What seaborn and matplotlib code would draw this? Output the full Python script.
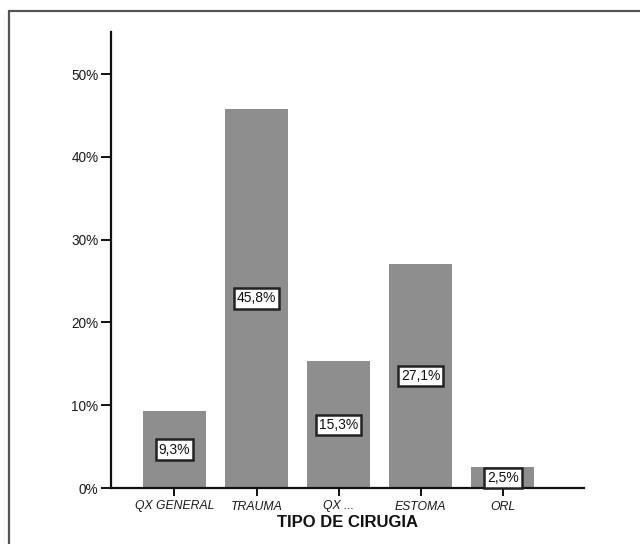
import matplotlib
matplotlib.use("Agg")
import matplotlib.pyplot as plt
from matplotlib.lines import Line2D
import seaborn as sns
import pandas as pd

categories = ["QX GENERAL", "TRAUMA", "QX ...", "ESTOMA", "ORL"]
percentages = [9.3, 45.8, 15.3, 27.1, 2.5]
y_ticks = [0, 10, 20, 30, 40, 50]

sns.set_theme(style="ticks")
plt.rcParams["font.family"] = ["Liberation Sans", "DejaVu Sans"]

df = pd.DataFrame({"tipo": categories, "pct": percentages})

fig = plt.figure(figsize=(6.4, 5.44), dpi=100)
ax = fig.add_axes([111 / 640, 1 - 488 / 544, (584 - 111) / 640, (488 - 32) / 544])

sns.barplot(data=df, x="tipo", y="pct", color="#8e8e8e", saturation=1,
            width=0.77, edgecolor="none", ax=ax)

ax.set_xlim(-0.773, 4.99)
ax.set_ylim(0, 55.1)
ax.set_yticks(y_ticks)
ax.set_yticklabels([f"{v}%" for v in y_ticks], fontsize=9.8, color="#1a1a1a")
ax.set_xticks(range(len(categories)))
ax.set_xticklabels(categories, fontsize=8.8, style="italic", color="#1a1a1a")
ax.tick_params(axis="y", length=7, width=1.4, color="#111111", pad=2)
ax.tick_params(axis="x", length=6, width=1.4, color="#111111", pad=3)
ax.set_xlabel("TIPO DE CIRUGIA", fontsize=12, fontweight="bold", labelpad=2,
              color="#111111")
ax.set_ylabel("")

sns.despine(ax=ax)
for side in ("left", "bottom"):
    ax.spines[side].set_linewidth(1.6)
    ax.spines[side].set_color("#111111")

# value labels boxed at the middle of each bar
for i, v in enumerate(percentages):
    ax.text(i, v / 2, f"{v:.1f}%".replace(".", ","), ha="center", va="center",
            fontsize=10, color="#111111",
            bbox=dict(boxstyle="square,pad=0.22", facecolor="white",
                      edgecolor="#222222", linewidth=1.8))

# outer frame
fig.add_artist(Line2D([9 / 640, 9 / 640], [0, 1 - 11 / 544],
                      transform=fig.transFigure, color="#555555", linewidth=1.6))
fig.add_artist(Line2D([9 / 640, 1], [1 - 11 / 544, 1 - 11 / 544],
                      transform=fig.transFigure, color="#555555", linewidth=1.6))

fig.savefig("out.png", dpi=100)
